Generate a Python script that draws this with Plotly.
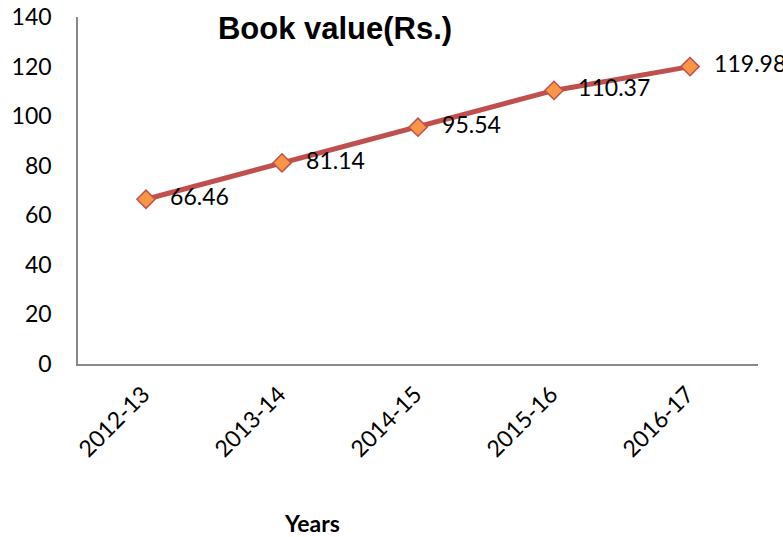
import plotly.graph_objects as go

years = ["2012-13", "2013-14", "2014-15", "2015-16", "2016-17"]
book_value = [66.46, 81.14, 95.54, 110.37, 119.98]
y_ticks = [0, 20, 40, 60, 80, 100, 120, 140]

fig = go.Figure()
fig.add_trace(go.Scatter(
    x=years, y=book_value,
    mode="lines+markers+text",
    line=dict(color="#C0504D", width=5),
    marker=dict(symbol="diamond", size=14, color="#F79646",
                line=dict(color="#C0504D", width=1.5)),
    text=[f"{v:.2f}" for v in book_value],
    texttemplate="\u2002\u2009%{text}",
    textposition="middle right",
    textfont=dict(family="Lato", size=23, color="#000000"),
    cliponaxis=False,
    showlegend=False,
))

fig.update_layout(
    width=783, height=537,
    margin=dict(l=78, r=25, t=17, b=173, autoexpand=False),
    paper_bgcolor="white", plot_bgcolor="white",
    title=dict(text="<b>Book value(Rs.)</b>", x=0.378, xref="paper", xanchor="center",
               y=1 - 28 / 537, yanchor="middle",
               font=dict(family="Liberation Sans", size=31, color="#000000")),
    xaxis=dict(
        type="category", showline=True, linecolor="#888888", linewidth=1.5,
        showgrid=False, ticks="outside", ticklen=6, tickcolor="rgba(0,0,0,0)",
        tickangle=-45, automargin=False, ticklabelshift=-3,
        tickfont=dict(family="Lato", size=23, color="#000000"),
        range=[-0.5, 4.5], zeroline=False,
    ),
    yaxis=dict(
        range=[0, 140], tickvals=y_ticks, showline=True, linecolor="#888888",
        linewidth=1.5, showgrid=False, zeroline=False, ticks="outside",
        ticklen=20, tickcolor="rgba(0,0,0,0)", automargin=False,
        tickfont=dict(family="Lato", size=23, color="#000000"),
    ),
    annotations=[dict(text="<b>Years</b>", x=0.344, xref="paper", y=-0.458, yref="paper",
                      xanchor="center", yanchor="middle", showarrow=False,
                      font=dict(family="Lato", size=23, color="#000000"))],
)

fig.write_html("out.html", config={"displayModeBar": False},
               post_script="document.body.style.margin='0';")
